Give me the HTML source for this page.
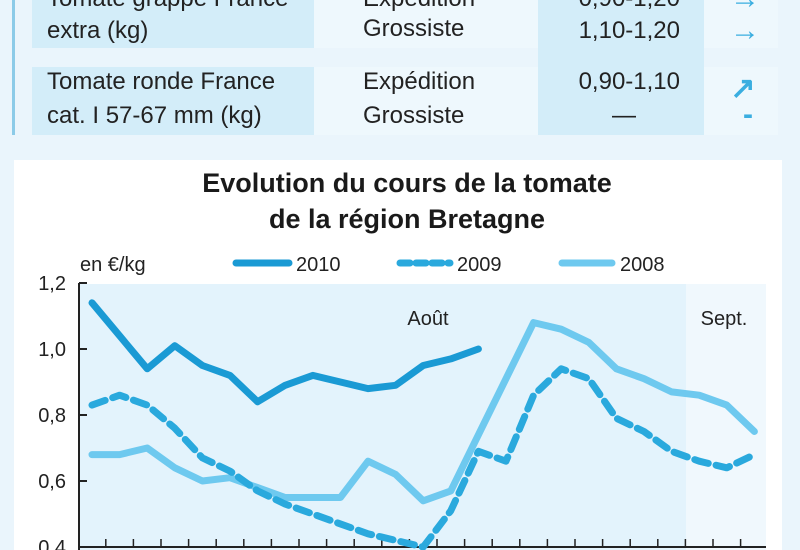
<!DOCTYPE html>
<html><head><meta charset="utf-8"><style>
html,body{margin:0;padding:0;background:#eaf5fc;}
svg{display:block;font-family:"Liberation Sans Narrow","Liberation Sans",sans-serif;}
</style></head><body>
<svg id="chart" width="800" height="550" viewBox="0 0 800 550">
  <rect x="0" y="0" width="800" height="550" fill="#eaf5fc"/>
  <g>
    <rect x="12" y="0" width="3" height="135" fill="#8ccbe8"/>
    <rect x="32" y="0" width="282" height="48" fill="#d3edf9"/>
    <rect x="314" y="0" width="224" height="48" fill="#eef8fd"/>
    <rect x="538" y="0" width="166" height="135" fill="#d3edf9"/>
    <rect x="704" y="0" width="74" height="48" fill="#eef8fd"/>
    <rect x="32" y="67" width="282" height="68" fill="#d3edf9"/>
    <rect x="314" y="67" width="224" height="68" fill="#eef8fd"/>
    <rect x="704" y="67" width="74" height="68" fill="#eef8fd"/>
    <g font-size="24" fill="#222">
      <text x="47" y="6">Tomate grappe France</text>
      <text x="47" y="38">extra (kg)</text>
      <text x="363" y="6">Expédition</text>
      <text x="363" y="36">Grossiste</text>
      <text x="680" y="6" text-anchor="end">0,90-1,20</text>
      <text x="680" y="38" text-anchor="end">1,10-1,20</text>
      <text x="47" y="89">Tomate ronde France</text>
      <text x="47" y="123">cat. I 57-67 mm (kg)</text>
      <text x="363" y="89">Expédition</text>
      <text x="363" y="123">Grossiste</text>
      <text x="680" y="89" text-anchor="end">0,90-1,10</text>
      <text x="624" y="123" text-anchor="middle">—</text>
    </g>
    <g fill="#3aaee0" font-size="30" font-weight="bold">
      <text x="745" y="8" text-anchor="middle">→</text>
      <text x="745" y="40" text-anchor="middle">→</text>
      <text x="743" y="98" text-anchor="middle">↗</text>
      <text x="748" y="124" text-anchor="middle">-</text>
    </g>
  </g>
  <rect x="14" y="160" width="768" height="390" fill="#ffffff"/>
  <text x="407" y="192" text-anchor="middle" font-size="27" font-weight="bold" fill="#1a1a1a">Evolution du cours de la tomate</text>
  <text x="407" y="228" text-anchor="middle" font-size="27" font-weight="bold" fill="#1a1a1a">de la région Bretagne</text>
  <text x="80" y="271" font-size="20" fill="#222">en €/kg</text>
  <g>
    <line x1="236" y1="263" x2="289" y2="263" stroke="#1a9ad4" stroke-width="7" stroke-linecap="round"/>
    <text x="296" y="271" font-size="20" fill="#222">2010</text>
    <line x1="400" y1="263" x2="450" y2="263" stroke="#2aa9dd" stroke-width="7" stroke-dasharray="10 6" stroke-linecap="round"/>
    <text x="457" y="271" font-size="20" fill="#222">2009</text>
    <line x1="562" y1="263" x2="612" y2="263" stroke="#6ec9ef" stroke-width="7" stroke-linecap="round"/>
    <text x="620" y="271" font-size="20" fill="#222">2008</text>
  </g>
  <rect x="79" y="284" width="607" height="266" fill="#e3f3fc"/>
  <rect x="686" y="284" width="80" height="266" fill="#f0f8fd"/>
  <text x="428" y="325" text-anchor="middle" font-size="20" fill="#222">Août</text>
  <text x="724" y="325" text-anchor="middle" font-size="20" fill="#222">Sept.</text>
  <g id="axes"></g>
  <g id="series"></g>
</svg>
<script>
const yTicks = [0.4, 0.6, 0.8, 1.0, 1.2];
const yTickLabels = ["0,4", "0,6", "0,8", "1,0", "1,2"];
const xCount = 25;
const s2010 = [1.14, 1.04, 0.94, 1.01, 0.95, 0.92, 0.84, 0.89, 0.92, 0.90, 0.88, 0.89, 0.95, 0.97, 1.00];
const s2009 = [0.83, 0.86, 0.83, 0.76, 0.67, 0.63, 0.57, 0.53, 0.50, 0.47, 0.44, 0.42, 0.40, 0.51, 0.69, 0.66, 0.86, 0.94, 0.91, 0.79, 0.75, 0.69, 0.66, 0.64, 0.68];
const s2008 = [0.68, 0.68, 0.70, 0.64, 0.60, 0.61, 0.58, 0.55, 0.55, 0.55, 0.66, 0.62, 0.54, 0.57, 0.74, 0.91, 1.08, 1.06, 1.02, 0.94, 0.91, 0.87, 0.86, 0.83, 0.75];

const NS = "http://www.w3.org/2000/svg";
const plotL = 79, plotR = 766, yTop = 283, yBot = 547;
function xPos(i){ return 92 + i * 27.6; }
function yPos(v){ return yBot - (v - 0.4) / 0.8 * (yBot - yTop); }
const axes = document.getElementById('axes');
const series = document.getElementById('series');
function mk(tag, attrs, parent){ const e = document.createElementNS(NS, tag); for (const k in attrs) e.setAttribute(k, attrs[k]); parent.appendChild(e); return e; }

const yAxis = mk('line', {x1: plotL, y1: yTop, x2: plotL, y2: 550, stroke: '#222', 'stroke-width': 2}, axes);


const xAxis = mk('line', {x1: plotL, y1: yBot, x2: plotR, y2: yBot, stroke: '#222', 'stroke-width': 2}, axes);


yTicks.forEach((v, i) => {
  const y = yPos(v);
  const t = mk('line', {x1: plotL, y1: y, x2: plotL + 8, y2: y, stroke: '#222', 'stroke-width': 2}, axes);
  
  
  const lb = mk('text', {x: 66, y: y + 7, 'text-anchor': 'end', 'font-size': 20, fill: '#222'}, axes);
  lb.textContent = yTickLabels[i];
  
  
});
for (let i = 0; i < xCount; i++) {
  const x = xPos(i) + 13.8;
  if (x > plotR + 1) continue;
  const t = mk('line', {x1: x, y1: yBot, x2: x, y2: yBot - 8, stroke: '#222', 'stroke-width': 1.5}, axes);
  
  
}
function pts(arr){ return arr.map((v, i) => xPos(i).toFixed(1) + ',' + yPos(v).toFixed(1)).join(' '); }
const l08 = mk('polyline', {points: pts(s2008), fill: 'none', stroke: '#6ec9ef', 'stroke-width': 7, 'stroke-linejoin': 'round', 'stroke-linecap': 'round'}, series);


const l09 = mk('polyline', {points: pts(s2009), fill: 'none', stroke: '#2aa9dd', 'stroke-width': 7, 'stroke-dasharray': '14 8', 'stroke-linejoin': 'round', 'stroke-linecap': 'round'}, series);


const l10 = mk('polyline', {points: pts(s2010), fill: 'none', stroke: '#1a9ad4', 'stroke-width': 7, 'stroke-linejoin': 'round', 'stroke-linecap': 'round'}, series);


</script>
</body></html>
